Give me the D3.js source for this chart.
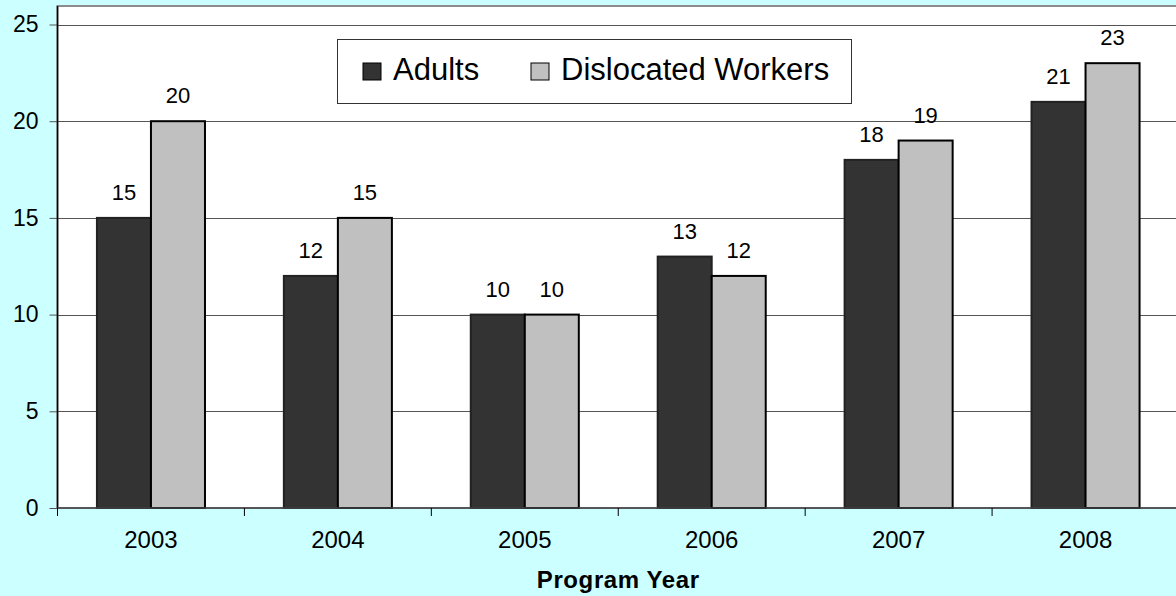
<!DOCTYPE html>
<html>
<head>
<meta charset="utf-8">
<script src="https://cdn.jsdelivr.net/npm/d3@7"></script>
<style>
  body { margin: 0; background: #CCFFFF; }
  svg text { font-family: Arial, "Liberation Sans", sans-serif; fill: #000; }
</style>
</head>
<body>
<svg id="chart" width="1176" height="596"></svg>
<script>
var years = ["2003", "2004", "2005", "2006", "2007", "2008"];
var adults = [15, 12, 10, 13, 18, 21];
var dislocated = [20, 15, 10, 12, 19, 23];
var seriesNames = ["Adults", "Dislocated Workers"];
var seriesColors = ["#333333", "#C0C0C0"];
var yTicks = [0, 5, 10, 15, 20, 25];

var plotLeft = 57.5, plotRight = 1179, plotTop = 6, plotBottom = 508;

var svg = d3.select("#chart");

//Background
svg.append("rect").attr("width", 1176).attr("height", 596).attr("fill", "#CCFFFF");

var x = d3.scaleBand().domain(years).range([plotLeft, plotRight]);
var y = d3.scaleLinear().domain([0, 25]).range([plotBottom, 24.5]);
var bw = x.bandwidth();
var x1 = d3.scaleBand().domain(seriesNames).range([bw * 0.211, bw * 0.789]);

//Plot area
svg.append("rect")
   .attr("x", plotLeft).attr("y", plotTop)
   .attr("width", plotRight - plotLeft).attr("height", plotBottom - plotTop)
   .attr("fill", "#fff").attr("stroke", "#8c8c8c").attr("stroke-width", 2);

//Gridlines
svg.append("g").selectAll("line")
   .data(yTicks.filter(function(d) { return d > 0; }))
   .join("line")
   .attr("x1", plotLeft).attr("x2", plotRight)
   .attr("y1", function(d) { return Math.round(y(d)) + 0.5; })
   .attr("y2", function(d) { return Math.round(y(d)) + 0.5; })
   .attr("stroke", "#555").attr("stroke-width", 1);

//Bars
var rows = years.map(function(yr, i) { return {year: yr, values: [adults[i], dislocated[i]]}; });

var groups = svg.append("g").selectAll("g")
   .data(rows)
   .join("g")
   .attr("transform", function(d) { return "translate(" + x(d.year) + ",0)"; });

groups.selectAll("rect")
   .data(function(d) { return d.values.map(function(v, j) { return {name: seriesNames[j], value: v, j: j}; }); })
   .join("rect")
   .attr("x", function(d) { return x1(d.name); })
   .attr("y", function(d) { return y(d.value); })
   .attr("width", x1.bandwidth())
   .attr("height", function(d) { return plotBottom - y(d.value); })
   .attr("fill", function(d) { return seriesColors[d.j]; })
   .attr("stroke", function(d) { return d.j == 0 ? "#222" : "#000"; })
   .attr("stroke-width", 2);

groups.selectAll("text")
   .data(function(d) { return d.values.map(function(v, j) { return {name: seriesNames[j], value: v}; }); })
   .join("text")
   .attr("x", function(d) { return x1(d.name) + x1.bandwidth() / 2; })
   .attr("y", function(d) { return y(d.value) - 18; })
   .attr("text-anchor", "middle")
   .style("font-size", "22px")
   .text(function(d) { return d.value; });

//Y axis
var yAxis = svg.append("g")
   .attr("transform", "translate(" + plotLeft + ",0)")
   .call(d3.axisLeft(y).tickValues(yTicks).tickSize(8).tickPadding(11));
yAxis.select(".domain").remove();
yAxis.selectAll(".tick line").attr("stroke", "#555");
yAxis.selectAll(".tick text").style("font-size", "23px").attr("font-family", null);

svg.append("line")
   .attr("x1", plotLeft).attr("x2", plotLeft)
   .attr("y1", plotTop).attr("y2", plotBottom)
   .attr("stroke", "#000").attr("stroke-width", 1.5);

//X axis
svg.append("line")
   .attr("x1", plotLeft).attr("x2", plotRight)
   .attr("y1", plotBottom).attr("y2", plotBottom)
   .attr("stroke", "#444").attr("stroke-width", 1.5);

var edges = years.map(function(d) { return x(d); }).concat([plotRight]);
svg.append("g").selectAll("line")
   .data(edges)
   .join("line")
   .attr("x1", function(d) { return d; }).attr("x2", function(d) { return d; })
   .attr("y1", plotBottom).attr("y2", plotBottom + 8)
   .attr("stroke", "#000").attr("stroke-width", 1);

svg.append("g").selectAll("text")
   .data(years)
   .join("text")
   .attr("x", function(d) { return x(d) + bw / 2; })
   .attr("y", 548)
   .attr("text-anchor", "middle")
   .style("font-size", "24px")
   .text(function(d) { return d; });

svg.append("text")
   .attr("x", (plotLeft + plotRight) / 2)
   .attr("y", 588)
   .attr("text-anchor", "middle")
   .style("font-size", "24px")
   .style("font-weight", "bold")
   .style("letter-spacing", "0.6px")
   .text("Program Year");

//Legend
var legend = svg.append("g").attr("transform", "translate(337,39)");
legend.append("rect")
   .attr("x", 0.5).attr("y", 0.5).attr("width", 514).attr("height", 64)
   .attr("fill", "#fff").attr("stroke", "#333").attr("stroke-width", 1);

var legendX = [26, 194];
var items = legend.selectAll("g.item")
   .data(seriesNames)
   .join("g")
   .attr("class", "item")
   .attr("transform", function(d, i) { return "translate(" + legendX[i] + ",0)"; });

items.append("rect")
   .attr("x", 0).attr("y", 24).attr("width", 18).attr("height", 17)
   .attr("fill", function(d, i) { return seriesColors[i]; })
   .attr("stroke", "#000").attr("stroke-width", 1);

items.append("text")
   .attr("x", 30).attr("y", 41)
   .style("font-size", "31px")
   .text(function(d) { return d; });
</script>
</body>
</html>
